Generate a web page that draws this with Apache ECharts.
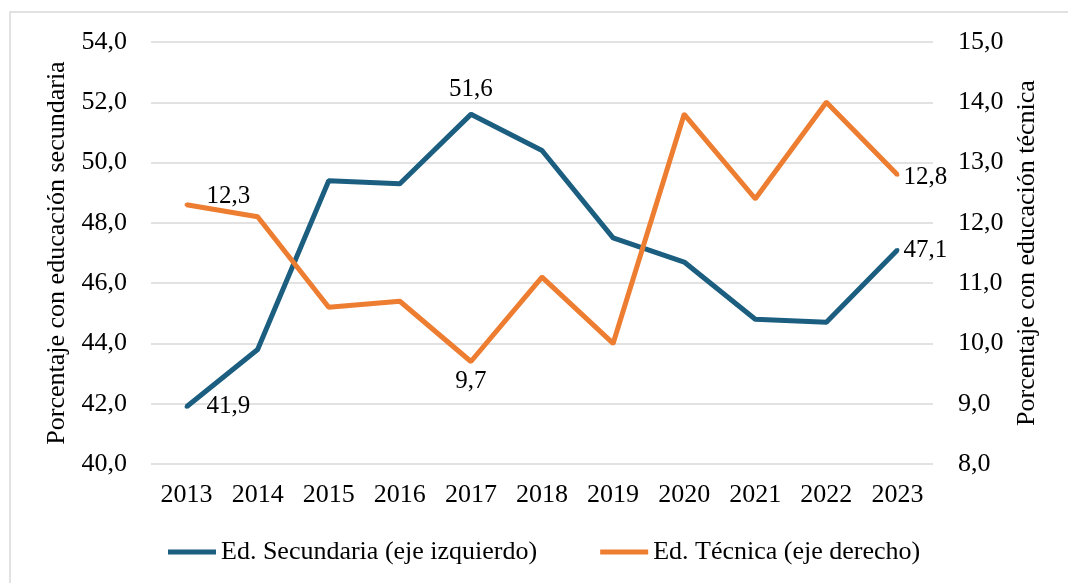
<!DOCTYPE html>
<html>
<head>
<meta charset="utf-8">
<script src="https://cdn.jsdelivr.net/npm/echarts@6/dist/echarts.min.js"></script>
<style>
  html, body { margin: 0; padding: 0; background: #fff; }
  #main { width: 1068px; height: 583px; }
</style>
</head>
<body>
<div id="main"></div>
<script>
// datos
const years = ['2013', '2014', '2015', '2016', '2017', '2018', '2019', '2020', '2021', '2022', '2023']
const secundaria = [41.9, 43.8, 49.4, 49.3, 51.6, 50.4, 47.5, 46.7, 44.8, 44.7, 47.1]
const tecnica = [12.3, 12.1, 10.6, 10.7, 9.7, 11.1, 10.0, 13.8, 12.4, 14.0, 12.8]

const FONT = 'Liberation Serif'
const blue = '#1b5e80'
const orange = '#ed7d31'

// etiquetas visibles solo en algunos puntos
const secLabels = {
  0: { position: 'right', distance: 18, offset: [0, 0] },
  4: { position: 'top', distance: 10 },
  10: { position: 'right', distance: 4, offset: [0, 0] }
}
const tecLabels = {
  0: { position: 'right', distance: 18, offset: [0, -8] },
  4: { position: 'bottom', distance: 5 },
  10: { position: 'right', distance: 4, offset: [0, 3] }
}

function withLabels (values, labels) {
  return values.map((v, i) => {
    if (!labels[i]) return v
    return {
      value: v,
      label: {
        show: true,
        fontFamily: FONT,
        fontSize: 25,
        color: '#000',
        formatter: (p) => p.value.toFixed(1).replace('.', ','),
        ...labels[i]
      }
    }
  })
}

const myChart = echarts.init(document.getElementById('main'))
const fmt = (v) => v.toFixed(1).replace('.', ',')

const option = {
  animation: false,
  backgroundColor: '#fff',
  graphic: [{
    type: 'rect',
    shape: { x: 10, y: 12, width: 1070, height: 590 },
    style: { fill: 'none', stroke: '#d9d9d9', lineWidth: 1.5 },
    silent: true,
    z: -1
  }],
  grid: { left: 151, right: 135, top: 42, bottom: 119 },
  legend: {
    bottom: 13,
    left: 163,
    itemGap: 63,
    itemWidth: 48,
    itemHeight: 5,
    icon: 'rect',
    textStyle: { fontFamily: FONT, fontSize: 26, color: '#000' },
    data: [
      { name: 'Ed. Secundaria (eje izquierdo)', itemStyle: { color: blue } },
      { name: 'Ed. Técnica (eje derecho)', itemStyle: { color: orange } }
    ]
  },
  xAxis: {
    type: 'category',
    data: years,
    boundaryGap: true,
    axisLine: { show: false },
    axisTick: { show: false },
    axisLabel: { fontFamily: FONT, fontSize: 26, color: '#000', margin: 18 }
  },
  yAxis: [
    {
      type: 'value',
      min: 40,
      max: 54,
      interval: 2,
      position: 'left',
      name: 'Porcentaje con educación secundaria',
      nameLocation: 'middle',
      nameGap: 76,
      nameTextStyle: { fontFamily: FONT, fontSize: 26, color: '#000' },
      axisLine: { show: false },
      axisTick: { show: false },
      axisLabel: { fontFamily: FONT, fontSize: 26, color: '#000', margin: 24, formatter: fmt },
      splitLine: { lineStyle: { color: '#d9d9d9', width: 1.5 } }
    },
    {
      type: 'value',
      min: 8,
      max: 15,
      interval: 1,
      position: 'right',
      name: 'Porcentaje con educación técnica',
      nameLocation: 'middle',
      nameGap: 80,
      nameTextStyle: { fontFamily: FONT, fontSize: 26, color: '#000' },
      axisLine: { show: false },
      axisTick: { show: false },
      axisLabel: { fontFamily: FONT, fontSize: 26, color: '#000', margin: 25, formatter: fmt },
      splitLine: { show: false }
    }
  ],
  series: [
    {
      name: 'Ed. Secundaria (eje izquierdo)',
      type: 'line',
      yAxisIndex: 0,
      symbol: 'circle',
      symbolSize: 4,
      lineStyle: { color: blue, width: 5 },
      itemStyle: { color: blue },
      data: withLabels(secundaria, secLabels)
    },
    {
      name: 'Ed. Técnica (eje derecho)',
      type: 'line',
      yAxisIndex: 1,
      symbol: 'circle',
      symbolSize: 4,
      lineStyle: { color: orange, width: 5 },
      itemStyle: { color: orange },
      data: withLabels(tecnica, tecLabels)
    }
  ]
}

myChart.setOption(option)
</script>
</body>
</html>
